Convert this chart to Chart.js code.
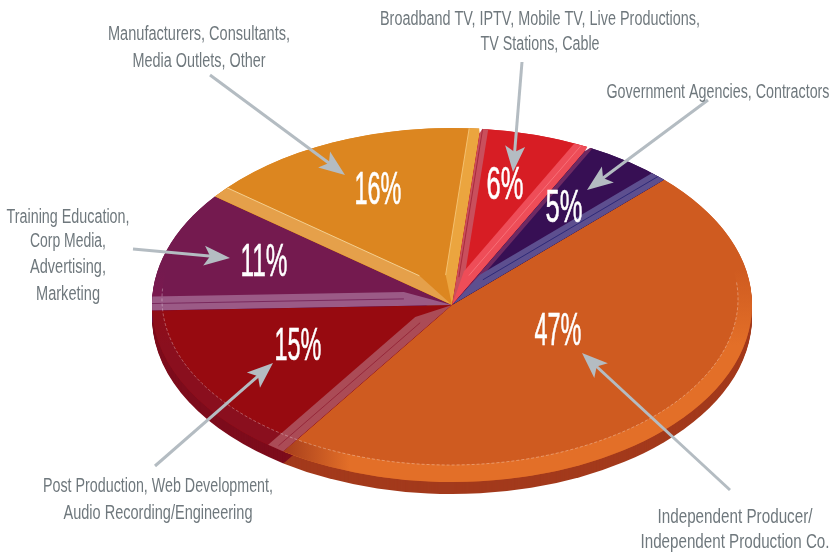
<!DOCTYPE html>
<html>
<head>
<meta charset="utf-8">
<style>
    html, body { margin: 0; padding: 0; background: #fff; }
    canvas { display: block; }
</style>
<script src="https://cdn.jsdelivr.net/npm/chart.js@4/dist/chart.umd.min.js"></script>
</head>
<body>
<canvas id="pie" width="830" height="553"></canvas>
<script>
    'use strict';

    // clockwise from the orange slice
    const categories = [
        'Independent Producer/ Independent Production Co.',
        'Post Production, Web Development, Audio Recording/Engineering',
        'Training Education, Corp Media, Advertising, Marketing',
        'Manufacturers, Consultants, Media Outlets, Other',
        'Broadband TV, IPTV, Mobile TV, Live Productions, TV Stations, Cable',
        'Government Agencies, Contractors',
    ];
    const shares = [47, 15, 11, 16, 6, 5];

    const faceColors = ['#cf5b20', '#970a10', '#741a4f', '#dc8620', '#d71d24', '#370f54'];
    const bandColors = ['#e36f28', '#8a0f1e', '#85174f', '#dc8620', '#d71d24', '#370f54'];
    const rimColors = ['#a33a1c', '#7d0c1c', '#6d1040', '#b86a18', '#a81820', '#2a0c40'];

    // pale bevels lying along a slice's radial edges
    const bevels = [
        { slice: 1, edge: 'start', width: 15, color: '#ab4b56', line: '#96283a', lineAt: 0.5 },
        { slice: 2, edge: 'start', width: 14, color: '#9b5a86', line: '#7a2a5e', lineAt: 0.5 },
        { slice: 3, edge: 'start', width: 13, color: '#e5a04a', line: '#f3cf90', lineAt: 1 },
        { slice: 3, edge: 'end', width: 11, color: '#eba53f', line: '#f3c070', lineAt: 1 },
        { slice: 4, edge: 'start', width: 8, color: '#c94f5c', line: '#a82a3c', lineAt: 0.3 },
        { slice: 4, edge: 'end', width: 13, color: '#ee4d58', line: '#f77078', lineAt: 0.5 },
        { slice: 5, edge: 'start', width: 4, color: '#6f2a63', line: '#6f2a63', lineAt: 0.5 },
        { slice: 5, edge: 'end', width: 12, color: '#5d4f8f', line: '#2e2a78', lineAt: 0.5 },
    ];

    // callouts: text lines, centre x, line centre y, squeezed line width
    const callouts = [
        { lines: ['Manufacturers, Consultants,', 'Media Outlets, Other'], x: 199, y: [34, 61], w: [182, 133] },
        { lines: ['Broadband TV, IPTV, Mobile TV, Live Productions,', 'TV Stations, Cable'], x: 540, y: [19, 44], w: [320, 119] },
        { lines: ['Government Agencies, Contractors'], x: 718, y: [92], w: [223] },
        { lines: ['Training Education,', 'Corp Media,', 'Advertising,', 'Marketing'], x: 68, y: [217, 241, 267, 294], w: [123, 76, 76, 64] },
        { lines: ['Post Production, Web Development,', 'Audio Recording/Engineering'], x: 158, y: [486, 513], w: [230, 189] },
        { lines: ['Independent Producer/', 'Independent Production Co.'], x: 735, y: [517, 542], w: [155, 189] },
    ];
    const arrows = [
        [210, 75, 345, 175],
        [522, 62, 513, 172],
        [708, 100, 587, 190],
        [133, 249, 230, 258],
        [155, 466, 273, 363],
        [730, 490, 582, 353],
    ];
    // per slice, same order as shares
    const percentSpots = [[558, 332], [298, 347], [264, 263], [378, 191], [505, 186], [564, 209]];
    // slices whose far corner has a small white gap after it
    const notchedSlices = [3, 4];

    const squash = 0.59;
    const rimDepth = 12;
    const insetEllipse = { x: 450, y: 299, rx: 288, ry: 166 };

    const wedgePath = (ctx, arc, dy = 0) => {
        ctx.beginPath();
        ctx.moveTo(arc.x, arc.y + dy);
        ctx.ellipse(arc.x, arc.y + dy, arc.outerRadius, arc.outerRadius * squash, 0, arc.startAngle, arc.endAngle);
        ctx.closePath();
    };

    const rimPoint = (arc, angle, scale = 1) => ({
        x: arc.outerRadius * scale * Math.cos(angle),
        y: arc.outerRadius * scale * squash * Math.sin(angle),
    });

    const drawBevel = (ctx, arcs, bevel) => {
        const arc = arcs[bevel.slice];
        const angle = bevel.edge === 'start' ? arc.startAngle : arc.endAngle;
        const { x: ox, y: oy } = rimPoint(arc, angle);
        const mid = rimPoint(arc, (arc.startAngle + arc.endAngle) / 2);
        const len = Math.hypot(ox, oy);
        // normal pointing into the slice
        const sign = (-oy * mid.x + ox * mid.y) > 0 ? 1 : -1;
        const nx = (-oy / len) * sign;
        const ny = (ox / len) * sign;
        const w = bevel.width;
        // the bevel keeps its width until close to the apex
        const shoulder = 0.16;

        ctx.save();
        wedgePath(ctx, arc);
        ctx.clip();
        ctx.fillStyle = bevel.color;
        ctx.beginPath();
        ctx.moveTo(arc.x, arc.y);
        ctx.lineTo(arc.x + ox * 1.1, arc.y + oy * 1.1);
        ctx.lineTo(arc.x + ox * 1.1 + nx * w, arc.y + oy * 1.1 + ny * w);
        ctx.lineTo(arc.x + ox * shoulder + nx * w, arc.y + oy * shoulder + ny * w);
        ctx.closePath();
        ctx.fill();
        ctx.strokeStyle = bevel.line;
        ctx.lineWidth = 1;
        ctx.beginPath();
        ctx.moveTo(arc.x + ox * shoulder + nx * w * bevel.lineAt, arc.y + oy * shoulder + ny * w * bevel.lineAt);
        ctx.lineTo(arc.x + ox + nx * w * bevel.lineAt, arc.y + oy + ny * w * bevel.lineAt);
        ctx.stroke();
        ctx.restore();
    };

    const drawArrow = (ctx, [x0, y0, x1, y1]) => {
        const a = Math.atan2(y1 - y0, x1 - x0);
        const len = Math.hypot(x1 - x0, y1 - y0);
        ctx.save();
        ctx.translate(x0, y0);
        ctx.rotate(a);
        ctx.fillStyle = '#b4bcc2';
        ctx.fillRect(0, -1.5, len - 18, 3);
        ctx.beginPath();
        ctx.moveTo(len, 0);
        ctx.lineTo(len - 26, -10);
        ctx.lineTo(len - 20, 0);
        ctx.lineTo(len - 26, 10);
        ctx.closePath();
        ctx.fill();
        ctx.restore();
    };

    const piePlugin = {
        id: 'tiltedPie',
        beforeDatasetsDraw(chart) {
            const { ctx } = chart;
            const arcs = chart.getDatasetMeta(0).data;
            // stacked copies make the side wall
            arcs.forEach((arc, i) => {
                ctx.fillStyle = rimColors[i];
                for (let dy = rimDepth; dy > 0; dy -= 1) {
                    wedgePath(ctx, arc, dy);
                    ctx.fill();
                }
            });
            const { x, y } = arcs[0];
            ctx.save();
            ctx.translate(x, y);
            ctx.scale(1, squash);
            ctx.translate(-x, -y);
        },
        afterDatasetsDraw(chart) {
            const { ctx } = chart;
            ctx.restore();
            const arcs = chart.getDatasetMeta(0).data;

            const bandPath = (arc) => {
                ctx.beginPath();
                ctx.ellipse(arc.x, arc.y, arc.outerRadius + 4, arc.outerRadius * squash + 4, 0, 0, Math.PI * 2);
                ctx.ellipse(insetEllipse.x, insetEllipse.y, insetEllipse.rx, insetEllipse.ry, 0, 0, Math.PI * 2);
            };

            arcs.forEach((arc, i) => {
                ctx.save();
                wedgePath(ctx, arc);
                ctx.clip();
                // the band dies away towards the back of the pie
                const rise = ctx.createLinearGradient(0, 270, 0, 345);
                rise.addColorStop(0, faceColors[i]);
                rise.addColorStop(1, bandColors[i]);
                ctx.fillStyle = rise;
                bandPath(arc);
                ctx.fill('evenodd');
                if (i === 0) {
                    const fade = ctx.createLinearGradient(285, 0, 350, 0);
                    fade.addColorStop(0, '#a83f1c');
                    fade.addColorStop(1, 'rgba(168,63,28,0)');
                    ctx.fillStyle = fade;
                    bandPath(arc);
                    ctx.fill('evenodd');
                }
                ctx.restore();
            });

            bevels.forEach((bevel) => drawBevel(ctx, arcs, bevel));

            // thin dashed line round the inset
            ctx.save();
            ctx.strokeStyle = 'rgba(255,255,255,.45)';
            ctx.lineWidth = 0.7;
            ctx.setLineDash([3, 2]);
            ctx.beginPath();
            ctx.ellipse(insetEllipse.x, insetEllipse.y, insetEllipse.rx, insetEllipse.ry, 0, -0.1, Math.PI * 1.02);
            ctx.stroke();
            ctx.restore();

            // small white gaps on the back edge
            ctx.fillStyle = '#ffffff';
            notchedSlices.forEach((i) => {
                const arc = arcs[i];
                const inner = rimPoint(arc, arc.endAngle, 0.975);
                const a = rimPoint(arc, arc.endAngle - 0.006, 1.02);
                const b = rimPoint(arc, arc.endAngle + 0.012, 1.02);
                ctx.beginPath();
                ctx.moveTo(arc.x + inner.x, arc.y + inner.y);
                ctx.lineTo(arc.x + a.x, arc.y + a.y);
                ctx.lineTo(arc.x + b.x, arc.y + b.y);
                ctx.closePath();
                ctx.fill();
            });
        },
        afterDraw(chart) {
            const { ctx } = chart;
            arrows.forEach((arrow) => drawArrow(ctx, arrow));

            ctx.textAlign = 'center';
            ctx.textBaseline = 'middle';
            ctx.fillStyle = '#ffffff';
            ctx.strokeStyle = '#ffffff';
            ctx.lineWidth = 0.6;
            ctx.font = '46px "Liberation Sans Narrow", "Liberation Sans", sans-serif';
            shares.forEach((share, i) => {
                const width = String(share).length === 1 ? 37 : 47;
                ctx.fillText(`${share}%`, percentSpots[i][0], percentSpots[i][1], width);
                ctx.strokeText(`${share}%`, percentSpots[i][0], percentSpots[i][1], width);
            });

            ctx.fillStyle = '#6f787d';
            ctx.font = '20px "Liberation Sans Narrow", "Liberation Sans", sans-serif';
            callouts.forEach((callout) => {
                callout.lines.forEach((line, i) => {
                    ctx.fillText(line, callout.x, callout.y[i], callout.w[i]);
                });
            });
        },
    };

    new Chart(document.getElementById('pie'), {
        type: 'pie',
        data: {
            labels: categories,
            datasets: [{
                data: shares,
                backgroundColor: faceColors,
                borderWidth: 0,
                clip: false,
            }],
        },
        options: {
            responsive: false,
            animation: false,
            events: [],
            rotation: 45,
            radius: 300,
            layout: { padding: { left: 74, top: 57 } },
            plugins: { legend: { display: false }, tooltip: { enabled: false } },
        },
        plugins: [piePlugin],
    });
</script>
</body>
</html>
